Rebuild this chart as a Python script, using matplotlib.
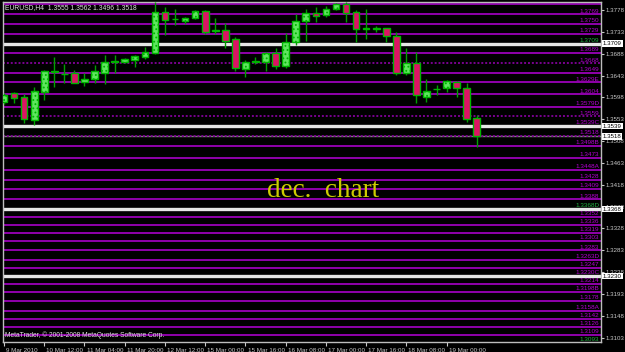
import matplotlib
matplotlib.use("Agg")
import matplotlib.pyplot as plt
import matplotlib.transforms as mtrans

# EURUSD H4 candles (9 Mar 2010 20:00 .. 19 Mar 2010)
opens = [1.3589, 1.3607, 1.3599, 1.3551, 1.3609, 1.3651, 1.3646, 1.3649, 1.3630, 1.3636,
         1.3649, 1.3671, 1.3671, 1.3675, 1.3681, 1.3690, 1.3774, 1.3759, 1.3755, 1.3762,
         1.3776, 1.3735, 1.3737, 1.3718, 1.3657, 1.3671, 1.3671, 1.3690, 1.3663, 1.3712,
         1.3755, 1.3772, 1.3768, 1.3780, 1.3790, 1.3774, 1.3739, 1.3739, 1.3741, 1.3724,
         1.3649, 1.3669, 1.3599, 1.3615, 1.3617, 1.3630, 1.3617, 1.3555]
closes = [1.3603, 1.3597, 1.3553, 1.3611, 1.3653, 1.3652, 1.3647, 1.3628, 1.3636, 1.3653,
          1.3671, 1.3672, 1.3677, 1.3683, 1.3692, 1.3774, 1.3757, 1.3760, 1.3762, 1.3776,
          1.3733, 1.3736, 1.3714, 1.3659, 1.3671, 1.3672, 1.3690, 1.3663, 1.3712, 1.3755,
          1.3772, 1.3766, 1.3780, 1.3790, 1.3772, 1.3739, 1.3740, 1.3740, 1.3724, 1.3649,
          1.3669, 1.3603, 1.3611, 1.3616, 1.3632, 1.3617, 1.3553, 1.3518]
highs = [1.3607, 1.3609, 1.3605, 1.3620, 1.3655, 1.3681, 1.3667, 1.3655, 1.3649, 1.3665,
         1.3685, 1.3685, 1.3679, 1.3685, 1.3702, 1.3794, 1.3784, 1.3780, 1.3764, 1.3778,
         1.3778, 1.3762, 1.3751, 1.3722, 1.3675, 1.3681, 1.3692, 1.3700, 1.3731, 1.3770,
         1.3780, 1.3784, 1.3786, 1.3792, 1.3794, 1.3778, 1.3780, 1.3745, 1.3741, 1.3733,
         1.3700, 1.3692, 1.3636, 1.3624, 1.3634, 1.3632, 1.3628, 1.3562]
lows = [1.3584, 1.3586, 1.3545, 1.3541, 1.3593, 1.3620, 1.3628, 1.3627, 1.3622, 1.3628,
        1.3626, 1.3649, 1.3669, 1.3661, 1.3677, 1.3687, 1.3727, 1.3747, 1.3749, 1.3759,
        1.3729, 1.3729, 1.3700, 1.3653, 1.3640, 1.3667, 1.3653, 1.3657, 1.3659, 1.3706,
        1.3714, 1.3753, 1.3764, 1.3778, 1.3753, 1.3712, 1.3718, 1.3733, 1.3712, 1.3644,
        1.3644, 1.3586, 1.3589, 1.3603, 1.3609, 1.3599, 1.3547, 1.3496]

date_ticks = [0, 4, 8, 12, 16, 20, 24, 28, 32, 36, 40, 44]
date_labels = ["9 Mar 2010", "10 Mar 12:00", "11 Mar 04:00", "11 Mar 20:00",
               "12 Mar 12:00", "15 Mar 00:00", "15 Mar 16:00", "16 Mar 08:00",
               "17 Mar 00:00", "17 Mar 16:00", "18 Mar 08:00", "19 Mar 00:00"]

axis_prices = [1.3778, 1.3733, 1.3688, 1.3643, 1.3598, 1.3553, 1.3508, 1.3463,
               1.3418, 1.3373, 1.3328, 1.3283, 1.3238, 1.3193, 1.3148, 1.3103]

# horizontal level objects and their text tags
level_prices = [1.3790, 1.3769, 1.3750, 1.3729, 1.3709, 1.3689, 1.3668, 1.3649, 1.3629,
                1.3604, 1.3579, 1.3559, 1.3539, 1.3518, 1.3498, 1.3473, 1.3448, 1.3428,
                1.3409, 1.3388, 1.3368, 1.3352, 1.3336, 1.3319, 1.3303, 1.3283, 1.3263,
                1.3247, 1.3230, 1.3214, 1.3198, 1.3178, 1.3158, 1.3142, 1.3126, 1.3109,
                1.3093]
level_tags = ["", "", "", "", "", "", "", "", "E",
              "", "D", "", "C", "", "B", "", "A", "",
              "", "", "D", "", "", "", "", "", "D",
              "", "C", "", "B", "", "A", "", "", "",
              ""]
white_levels = [1.3709, 1.3539, 1.3368, 1.3230]
dotted_levels = [1.3668, 1.3559, 1.3518]
green_tag_levels = [1.3709, 1.3368, 1.3093]
price_boxes = [1.3709, 1.3539, 1.3518, 1.3368, 1.3230]
bid = 1.3518

BULL = "#5fe65f"
BEAR = "#dc1464"
EDGE = "#00b400"
LINE = "#9a00b8"
TXT = "#b400d2"
GREY = "#c8c8c8"
small = ["Liberation Sans", "DejaVu Sans"]

plt.rcParams["hatch.color"] = "#b8ffb8"
plt.rcParams["hatch.linewidth"] = 0.8

fig = plt.figure(figsize=(6.25, 3.52), dpi=100, facecolor="black")
ax = fig.add_axes([3 / 625, 10 / 352, 598 / 625, 340 / 352], facecolor="black")
ax.set_xlim(-0.1, 59.35)
ax.set_ylim(1.30941, 1.37945)

# level lines
for p in level_prices:
    if p in white_levels:
        ax.axhline(p, color="#e6e6e6", lw=2.4, zorder=1)
    elif p in dotted_levels:
        if p == bid:
            ax.axhline(p, color="#808080", lw=1.0, zorder=1)
        ax.axhline(p, color="#7a0090", lw=1.4, ls=(0, (1, 1)), zorder=1)
    else:
        ax.axhline(p, color=LINE, lw=1.3, zorder=1)

blend = mtrans.blended_transform_factory(ax.transAxes, ax.transData)
for p, tag in zip(level_prices, level_tags):
    col = "#20b040" if p in green_tag_levels else TXT
    ax.text(0.997, p + 0.00016, f"{p:.4f}{tag}", transform=blend, ha="right", va="bottom",
            fontsize=4.6, color=col, family=small, clip_on=True, zorder=3)

# candles
xs = list(range(len(opens)))
bottoms = [min(o, c) for o, c in zip(opens, closes)]
heights = [max(abs(c - o), 0.00008) for o, c in zip(opens, closes)]
ax.vlines(xs, lows, highs, color="#00a000", lw=1.0, zorder=4)
bull = [i for i in xs if closes[i] >= opens[i]]
bear = [i for i in xs if closes[i] < opens[i]]
ax.bar(bull, [heights[i] for i in bull], bottom=[bottoms[i] for i in bull], width=0.66,
       color=BULL, edgecolor=EDGE, lw=1.0, hatch="....", zorder=5)
ax.bar(bear, [heights[i] for i in bear], bottom=[bottoms[i] for i in bear], width=0.66,
       color=BEAR, edgecolor=EDGE, lw=1.0, zorder=5)

# axes
for s in ax.spines.values():
    s.set_color("#bdbdbd")
    s.set_linewidth(1.0)
ax.yaxis.tick_right()
ax.set_yticks(axis_prices)
ax.set_yticklabels([f"{v:.4f}" for v in axis_prices], fontsize=4.4, color=GREY, family=small)
ax.tick_params(axis="y", direction="out", length=2.2, width=0.8, color=GREY, pad=1)
ax.set_xticks(date_ticks)
ax.set_xticklabels(date_labels, fontsize=4.5, color=GREY, family=small, ha="left")
ax.tick_params(axis="x", direction="out", length=3, width=0.8, color=GREY, pad=1)
shift = mtrans.ScaledTranslation(1.5 / 72, 0, fig.dpi_scale_trans)
for lab in ax.get_xticklabels():
    lab.set_transform(lab.get_transform() + shift)

for p in price_boxes:
    ax.text(1.003, p, f"{p:.4f}", transform=blend, ha="left", va="center", fontsize=4.4,
            color="black", family=small, clip_on=False, zorder=6,
            bbox=dict(boxstyle="square,pad=0.15", fc="white", ec="none"))

ax.text(0.004, 0.983, "EURUSD,H4  1.3555 1.3562 1.3496 1.3518", transform=ax.transAxes,
        ha="left", va="center", fontsize=4.9, color="#e0e0e0", family=small, zorder=7)
ax.text(0.003, 0.02, "MetaTrader, \u00a9 2001-2008 MetaQuotes Software Corp.",
        transform=ax.transAxes, ha="left", va="center", fontsize=4.8, color="#e0e0e0",
        family=small, zorder=7)
ax.text(0.535, 0.427, "dec.  chart", transform=ax.transAxes, ha="center", va="baseline",
        fontsize=19.5, color="#cccc00", family=["Liberation Serif", "DejaVu Serif"], zorder=7)

fig.savefig("out.png", dpi=100, facecolor="black")
